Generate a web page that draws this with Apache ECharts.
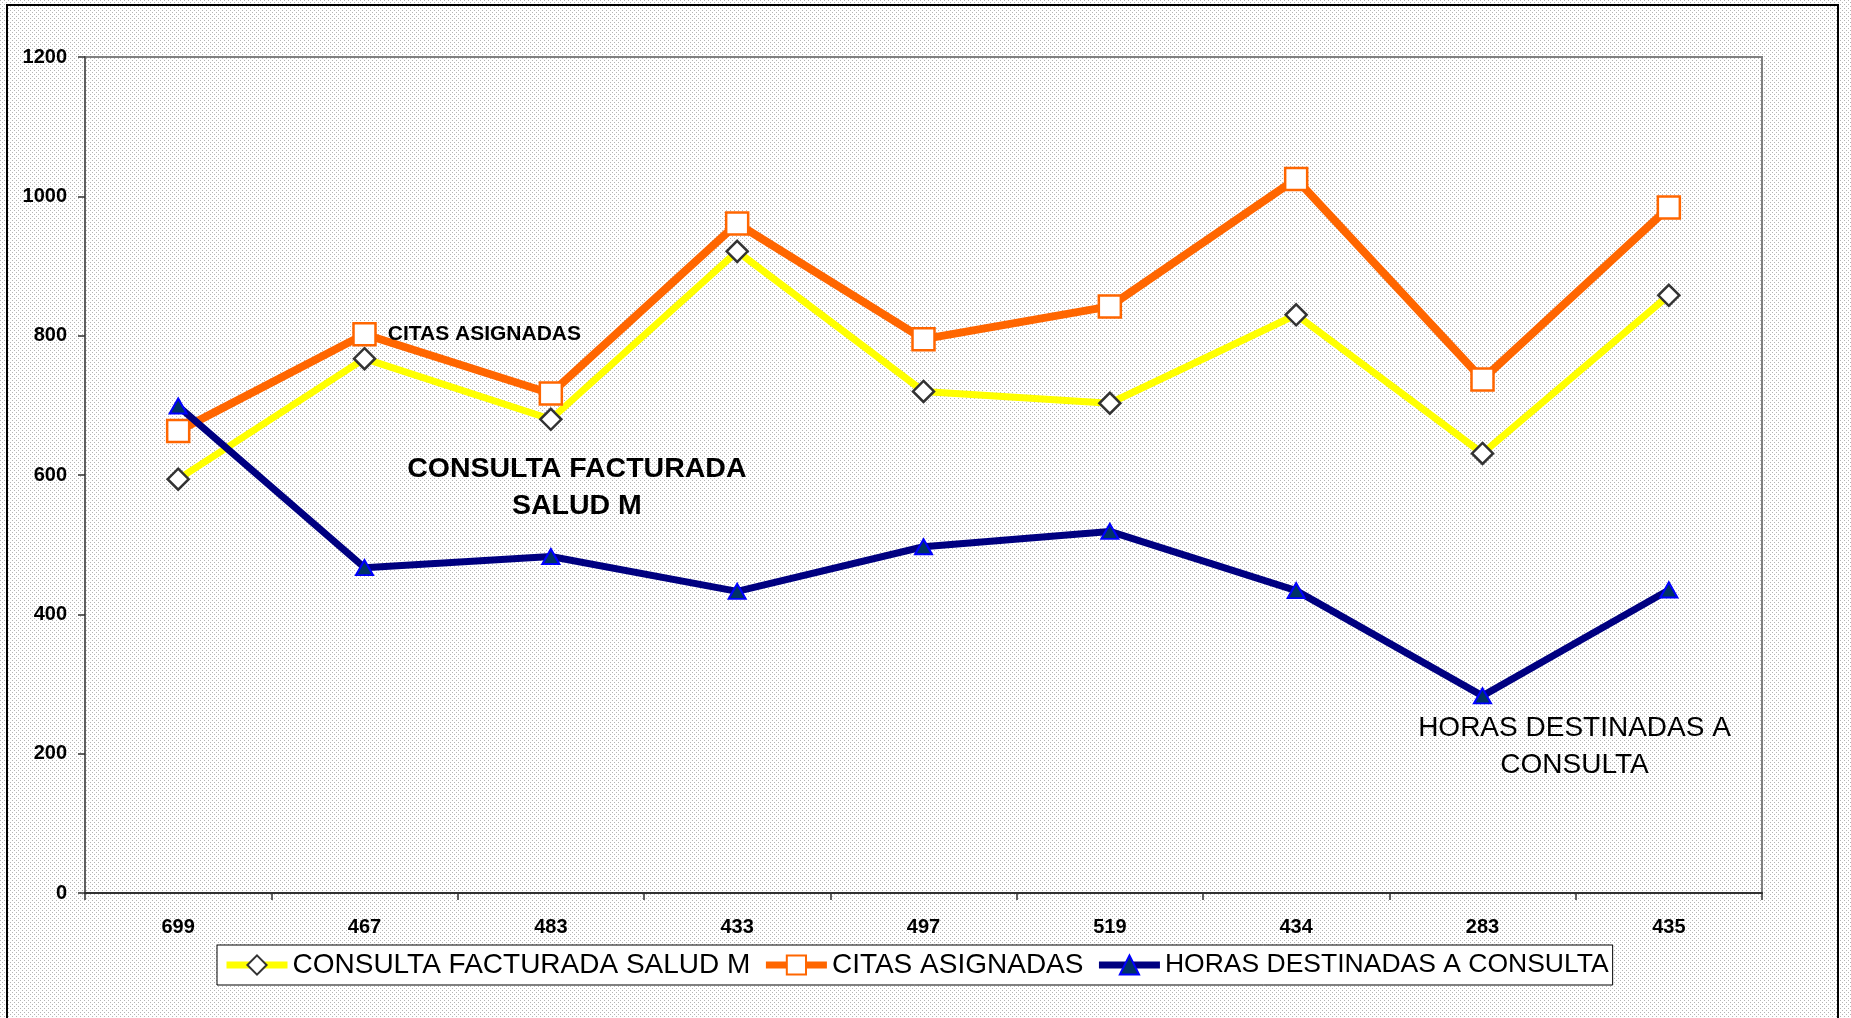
<!DOCTYPE html>
<html>
<head>
<meta charset="utf-8">
<script src="https://cdn.jsdelivr.net/npm/echarts@6/dist/echarts.min.js"></script>
<style>html,body{margin:0;padding:0;background:#fff}#c{width:1851px;height:1018px}</style>
</head>
<body>
<div id="c"></div>
<script>
const categories = ['699','467','483','433','497','519','434','283','435'];
const consultaFacturada = [594,767,680,921,720,703,830,631,858];
const citasAsignadas = [663,802,717,961,795,842,1025,737,984];
const horasDestinadas = [699,467,483,433,497,519,434,283,435];
const seriesNames = ['CONSULTA FACTURADA SALUD M','CITAS ASIGNADAS','HORAS DESTINADAS A CONSULTA'];

const pc = document.createElement('canvas');
pc.width = 4; pc.height = 4;
const pctx = pc.getContext('2d');
pctx.fillStyle = '#ffffff'; pctx.fillRect(0,0,4,4);
pctx.fillStyle = '#b4b4b4'; pctx.fillRect(0,0,1,1); pctx.fillRect(2,2,1,1);

const FONT = "'Liberation Sans', Arial, sans-serif";

function withLabel(arr, idx, label) {
  return arr.map((v, i) => i === idx ? { value: v, label: label } : v);
}

const chart = echarts.init(document.getElementById('c'), null, { renderer: 'canvas' });
chart.setOption({
  animation: false,
  backgroundColor: { image: pc, repeat: 'repeat' },
  textStyle: { fontFamily: FONT },
  grid: { left: 85, top: 57, right: 89, bottom: 125, show: true, borderColor: '#808080', borderWidth: 2, backgroundColor: 'transparent' },
  legend: {
    left: 217, top: 945,
    padding: [6, 4, 6, 6],
    itemGap: 12,
    itemWidth: 61, itemHeight: 24,
    backgroundColor: '#ffffff',
    borderColor: '#000000', borderWidth: 1, borderRadius: 0,
    lineStyle: { width: 7 },
    textStyle: { fontFamily: FONT, fontSize: 28, color: '#000' },
    data: [
      { name: seriesNames[0], textStyle: { fontSize: 28 } },
      { name: seriesNames[1], textStyle: { fontSize: 28 } },
      { name: seriesNames[2], textStyle: { fontSize: 26.5 } }
    ]
  },
  xAxis: {
    type: 'category', data: categories, boundaryGap: true,
    axisLine: { lineStyle: { color: '#303030', width: 2 } },
    axisTick: { show: true, inside: false, length: 7, alignWithLabel: false, lineStyle: { color: '#303030', width: 1.5 } },
    axisLabel: { margin: 24, fontSize: 20, fontWeight: 'bold', color: '#000', fontFamily: FONT },
    splitLine: { show: false }
  },
  yAxis: {
    type: 'value', min: 0, max: 1200, interval: 200,
    axisLine: { show: true, lineStyle: { color: '#606060', width: 2 } },
    axisTick: { show: true, inside: false, length: 7, lineStyle: { color: '#303030', width: 1.5 } },
    axisLabel: { margin: 18, fontSize: 20, fontWeight: 'bold', color: '#000', fontFamily: FONT, formatter: (v) => String(v) },
    splitLine: { show: false }
  },
  series: [
    {
      name: seriesNames[0], type: 'line', z: 2,
      data: withLabel(consultaFacturada, 2, {
        show: true, position: 'bottom', distance: 5, offset: [26, 15],
        formatter: 'CONSULTA FACTURADA\nSALUD M',
        fontSize: 28.5, fontWeight: 'bold', lineHeight: 37, color: '#000', fontFamily: FONT, align: 'center'
      }),
      symbol: 'diamond', symbolSize: 21,
      lineStyle: { color: '#FFFF00', width: 7 },
      itemStyle: { color: '#ffffff', borderColor: '#333333', borderWidth: 2.5 }
    },
    {
      name: seriesNames[1], type: 'line', z: 3,
      data: withLabel(citasAsignadas, 1, {
        show: true, position: 'right', distance: 11,
        formatter: 'CITAS ASIGNADAS',
        fontSize: 21, fontWeight: 'bold', color: '#000', fontFamily: FONT
      }),
      symbol: 'rect', symbolSize: 22,
      lineStyle: { color: '#FF6600', width: 8 },
      itemStyle: { color: '#ffffff', borderColor: '#FF6600', borderWidth: 2.5 }
    },
    {
      name: seriesNames[2], type: 'line', z: 4,
      data: withLabel(horasDestinadas, 7, {
        show: true, position: 'bottom', distance: 3, offset: [92, 2],
        formatter: 'HORAS DESTINADAS A\nCONSULTA',
        fontSize: 28, lineHeight: 37, color: '#000', fontFamily: FONT, align: 'center'
      }),
      symbol: 'triangle', symbolSize: [17, 15],
      lineStyle: { color: '#000080', width: 7 },
      itemStyle: { color: '#003366', borderColor: '#0000FF', borderWidth: 2 }
    }
  ],
  graphic: [
    { type: 'rect', silent: true, z: 100, shape: { x: 7, y: 5, width: 1831, height: 1040 }, style: { fill: null, stroke: '#000', lineWidth: 2 } }
  ]
});
</script>
</body>
</html>
